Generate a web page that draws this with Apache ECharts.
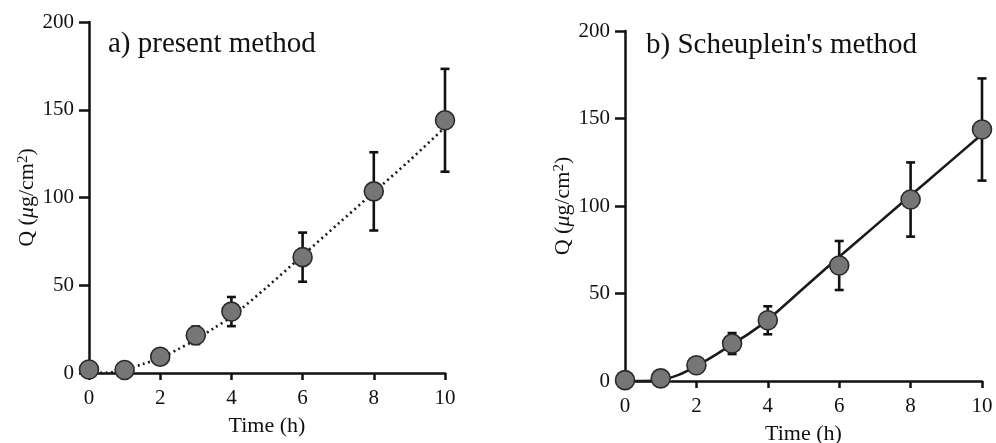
<!DOCTYPE html>
<html>
<head>
<meta charset="utf-8">
<script src="https://cdn.jsdelivr.net/npm/echarts@6/dist/echarts.min.js"></script>
<style>
  html, body { margin: 0; padding: 0; background: #fff; }
  #chart { width: 996px; height: 443px; }
</style>
</head>
<body>
<div id="chart"></div>
<script>
// Sampling times (h) for the measured cumulative amounts
const times = [0, 1, 2, 3, 4, 6, 8, 10];

// Panel a) present method: measured mean Q and its standard deviation
const meanA = [2, 1.7, 9.3, 21.5, 35, 66, 103.5, 144];
const sdA   = [0, 0, 0, 5, 8.3, 14, 22.3, 29.3];
// Fitted curve for panel a)
const fitTimesA  = [0, 0.5, 0.8, 1, 1.5, 2, 2.5, 3, 3.5, 4, 5, 6, 7, 8, 9, 10];
const fitValuesA = [0, 0.2, 0.8, 2, 5, 8.5, 13.5, 19, 25.5, 32, 49, 67, 85, 103, 121, 140];

// Panel b) Scheuplein's method: measured mean Q and its standard deviation
const meanB = [0.5, 1.5, 9, 21.4, 34.7, 66, 103.7, 143.7];
const sdB   = [0, 0, 0, 6, 8, 14, 21.2, 29.2];
// Fitted curve for panel b)
const fitTimesB  = [0, 0.5, 1, 1.5, 2, 2.5, 3, 3.5, 4, 5, 6, 7, 8, 9, 10];
const fitValuesB = [0, 0, 0.5, 3.5, 8.5, 14.5, 21, 27.5, 35, 53, 71, 88.5, 106, 123.5, 141];

// Axis ticks
const xTicks = { min: 0, max: 10, interval: 2 };
const yTicks = { min: 0, max: 200, interval: 50 };

const panelTitles = ['a) present method', "b) Scheuplein's method"];

const FONT = '"Liberation Serif", "Times New Roman", serif';
const INK = '#111';

function pairs(xs, ys) { return xs.map((x, i) => [x, ys[i]]); }
function errRows(xs, m, s) {
  const rows = [];
  xs.forEach((x, i) => { if (s[i] > 0) rows.push([x, m[i] - s[i], m[i] + s[i]]); });
  return rows;
}

function renderErrorBar(params, api) {
  const x = api.value(0);
  const top = api.coord([x, api.value(2)]);
  const bot = api.coord([x, api.value(1)]);
  const w = 4.5;
  const st = { stroke: INK, lineWidth: 2.6 };
  return {
    type: 'group',
    children: [
      { type: 'line', shape: { x1: top[0], y1: top[1], x2: bot[0], y2: bot[1] }, style: st },
      { type: 'line', shape: { x1: top[0] - w, y1: top[1], x2: top[0] + w, y2: top[1] }, style: st },
      { type: 'line', shape: { x1: bot[0] - w, y1: bot[1], x2: bot[0] + w, y2: bot[1] }, style: st }
    ]
  };
}

function xAxis(gridIndex) {
  return {
    type: 'value', gridIndex,
    min: xTicks.min, max: xTicks.max, interval: xTicks.interval,
    name: 'Time (h)', nameLocation: 'middle', nameGap: 42,
    nameTextStyle: { fontFamily: FONT, fontSize: 22, color: INK },
    axisLine: { lineStyle: { color: INK, width: 2.5 } },
    axisTick: { inside: false, length: 7, lineStyle: { color: INK, width: 2.5 } },
    axisLabel: { fontFamily: FONT, fontSize: 21, color: INK, margin: 15 },
    splitLine: { show: false }
  };
}

function yAxis(gridIndex) {
  return {
    type: 'value', gridIndex,
    min: yTicks.min, max: yTicks.max, interval: yTicks.interval,
    name: '{n|Q (}{i|μ}{n|g/cm}{s|2}{n|)}',
    nameLocation: 'middle', nameGap: 51, nameRotate: 90,
    nameTextStyle: {
      fontFamily: FONT, fontSize: 22, color: INK,
      rich: {
        n: { fontFamily: FONT, fontSize: 22, color: INK, lineHeight: 22, verticalAlign: 'bottom' },
        i: { fontFamily: FONT, fontSize: 22, color: INK, fontStyle: 'italic', lineHeight: 22, verticalAlign: 'bottom' },
        s: { fontFamily: FONT, fontSize: 15, color: INK, lineHeight: 22, verticalAlign: 'top' }
      }
    },
    axisLine: { lineStyle: { color: INK, width: 2.5 } },
    axisTick: { inside: false, length: 10, lineStyle: { color: INK, width: 2.5 } },
    axisLabel: { fontFamily: FONT, fontSize: 21, color: INK, margin: 15 },
    splitLine: { show: false }
  };
}

function panelSeries(idx, fitX, fitY, mean, sd, lineType, lineWidth) {
  return [
    {
      type: 'line', xAxisIndex: idx, yAxisIndex: idx,
      data: pairs(fitX, fitY), smooth: 0.3, showSymbol: false, symbol: 'none',
      lineStyle: { color: '#1a1a1a', width: lineWidth, type: lineType },
      clip: false, z: 2, silent: true
    },
    {
      type: 'custom', xAxisIndex: idx, yAxisIndex: idx,
      data: errRows(times, mean, sd), renderItem: renderErrorBar,
      clip: false, z: 3, silent: true
    },
    {
      type: 'scatter', xAxisIndex: idx, yAxisIndex: idx,
      data: pairs(times, mean), symbol: 'circle', symbolSize: 19,
      itemStyle: { color: '#767676', borderColor: '#2a2a2a', borderWidth: 1.6, opacity: 1 },
      clip: false, z: 4, silent: true
    }
  ];
}

const chart = echarts.init(document.getElementById('chart'), null, { renderer: 'canvas' });
chart.setOption({
  backgroundColor: '#ffffff',
  animation: false,
  title: [
    { text: panelTitles[0], left: 103, top: 25,
      textStyle: { fontFamily: FONT, fontSize: 29, fontWeight: 'normal', color: INK } },
    { text: panelTitles[1], left: 641, top: 26,
      textStyle: { fontFamily: FONT, fontSize: 29, fontWeight: 'normal', color: INK } }
  ],
  grid: [
    { left: 89, right: 551, top: 22, bottom: 70, containLabel: false, outerBoundsMode: 'none' },
    { left: 625, right: 14, top: 31, bottom: 62, containLabel: false, outerBoundsMode: 'none' }
  ],
  xAxis: [xAxis(0), xAxis(1)],
  yAxis: [yAxis(0), yAxis(1)],
  series: [
    ...panelSeries(0, fitTimesA, fitValuesA, meanA, sdA, [2, 3.5], 2.6),
    ...panelSeries(1, fitTimesB, fitValuesB, meanB, sdB, 'solid', 2.6)
  ]
});
</script>
</body>
</html>
